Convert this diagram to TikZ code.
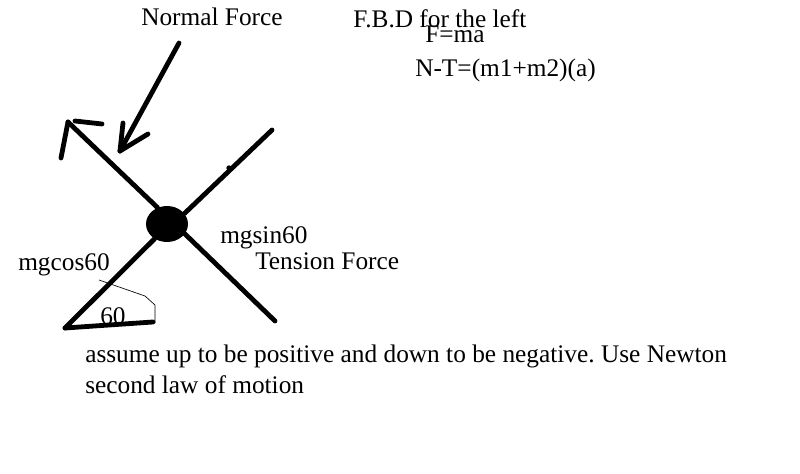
\documentclass[tikz,border=0pt]{standalone}
\usepackage{fontspec}
\usetikzlibrary{shapes.geometric}
\setmainfont{Liberation Serif}
\frenchspacing
\tikzset{
  thick line/.style={line width=3.6pt,line cap=round},
  label text/.style={inner sep=0pt,font=\fontsize{19}{22}\selectfont},
}
\begin{document}
\begin{tikzpicture}[x=0.75pt,y=-0.75pt]
    \useasboundingbox (0,0) rectangle (800,474);
    % the ball and the four rods
    \node[ellipse,fill=black,minimum width=31.5pt,minimum height=27pt,inner sep=0pt] (ball) at (167,224) {};
    \coordinate (upleft) at (68,122);
    \coordinate (upright) at (272,130);
    \coordinate (downright) at (275,321);
    \coordinate (downleft) at (65,328);
    \coordinate (baseend) at (153,322);
    \draw[thick line] (ball.120) -- (upleft);
    \draw[thick line] (ball.31) -- (upright);
    \draw[thick line] (ball.-29) -- (downright);
    \draw[thick line] (ball.230) -- (downleft);
    \draw[thick line] (downleft) -- (baseend);
    % hand drawn arrow heads
    \coordinate (normalstart) at (179,43);
    \coordinate (normaltip) at (120,151);
    \draw[thick line] (normalstart) -- (normaltip);
    \draw[thick line] (normaltip) -- (148,134);
    \draw[thick line] (normaltip) -- (123,123);
    \draw[thick line] (upleft) -- (61,158);
    \draw[thick line] (75,121) -- (102,124);
    \fill (229,168) circle (2pt);
    % angle mark
    \draw[line width=0.5pt] (99,280) -- (145,296) -- (155,305) -- (155,323);
    % labels
    \node[label text,anchor=west] (normal) at (141,17) {Normal Force};
    \node[label text,anchor=west] (fbd) at (353,19) {F.B.D for the left};
    \node[label text,anchor=west] (fma) at (425,34) {F=ma};
    \node[label text,anchor=west] (eqn) at (415,70) {N-T=(m1+m2)(a)};
    \node[label text,anchor=west] (sinlabel) at (220,238) {mgsin60};
    \node[label text,anchor=west] (tension) at (255,261) {Tension Force};
    \node[label text,anchor=west] (coslabel) at (18,265) {mgcos60};
    \node[label text,anchor=west] (angle) at (100,316) {60};
    \node[label text,anchor=west] (noteone) at (85,356) {assume up to be positive and down to be negative. Use Newton};
    \node[label text,anchor=west] (notetwo) at (85,385) {second law of motion};
\end{tikzpicture}
\end{document}
